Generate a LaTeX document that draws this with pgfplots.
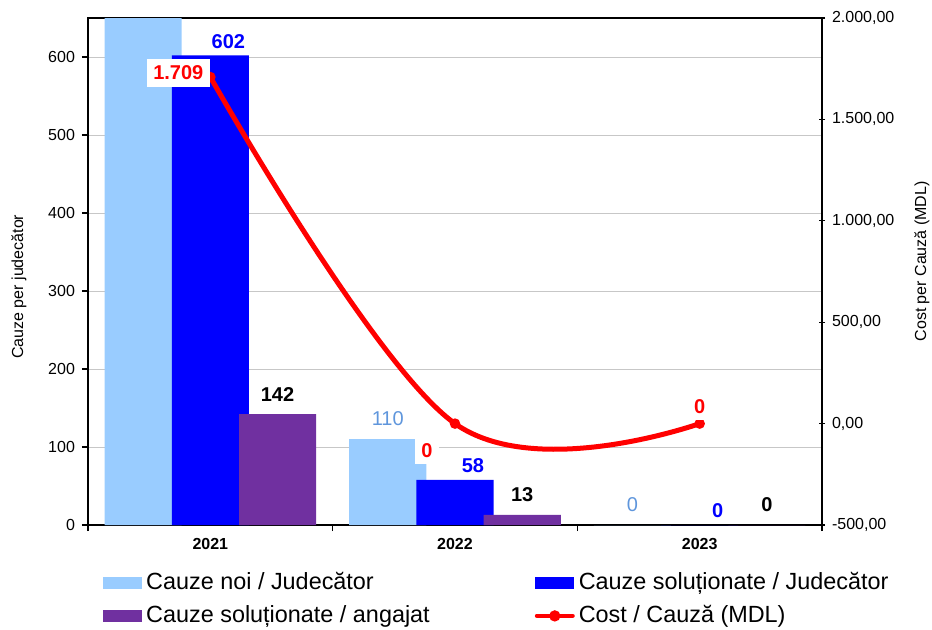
\documentclass[border=0pt]{standalone}
\usepackage{pgfplots}
\pgfplotsset{compat=1.18}
\usepackage{fontspec}
\setmainfont{Liberation Sans}
\definecolor{cnoi}{RGB}{153,204,255}
\definecolor{csol}{RGB}{0,0,255}
\definecolor{cang}{RGB}{112,48,160}
\definecolor{ccost}{RGB}{255,0,0}
\definecolor{labnoi}{RGB}{95,150,220}
\newcommand\ftick{\fontsize{8}{9.6}\selectfont}
\newcommand\flab{\fontsize{10}{12}\selectfont}
\newcommand\fleg{\fontsize{11.7}{14}\selectfont}

\pgfplotsset{
  base/.style={
    scale only axis, width=367pt, height=253.5pt,
    xmin=-0.5, xmax=2.5,
    axis line style={black, line width=0.6pt},
    tick style={black, line width=0.6pt},
    major tick length=3pt,
    /pgf/number format/assume math mode=true,
    tick label style={font=\ftick},
  },
}

\begin{document}
\begin{tikzpicture}
\path[use as bounding box] (-44pt,-52pt) rectangle (422pt,262.5pt);

% left axis: bars
\begin{axis}[base,
  ymin=0, ymax=650, ytick={0,100,...,600},
  xtick={-0.5,0.5,1.5,2.5}, xticklabels={2021,2022,2023},
  x tick label as interval,
  xtick pos=bottom, ytick pos=left, tick align=outside,
  xticklabel style={font=\ftick\bfseries},
  ymajorgrids, grid style={draw=black!22, line width=0.5pt},
  ylabel={Cauze per judecător},
  every axis y label/.style={at={(axis description cs:0,0.47)}, xshift=-34.5pt,
    rotate=90, anchor=center, font=\ftick},
  nodes near coords, point meta=explicit symbolic,
  every node near coord/.append style={font=\flab},
]
% bars side by side, overlapping; labels shifted by hand
\addplot[ybar, bar width=0.315, bar shift=-0.275, fill=cnoi, draw=none,
  every node near coord/.append style={text=labnoi, xshift=-33.6pt, yshift=3pt}]
  coordinates {(0,720) [] (1,110) [110] (2,0) [0]};
\addplot[ybar, bar width=0.315, bar shift=0, fill=csol, draw=none,
  every node near coord/.append style={text=csol, font=\flab\bfseries, xshift=9pt, yshift=0pt}]
  coordinates {(0,602) [602] (1,58) [58] (2,0) [0]};
\addplot[ybar, bar width=0.315, bar shift=0.275, fill=cang, draw=none,
  every node near coord/.append style={text=black, font=\flab\bfseries, xshift=33.6pt, yshift=3pt}]
  coordinates {(0,142) [142] (1,13) [13] (2,0) [0]};
\end{axis}

% right axis: cost line + legend
\begin{axis}[base,
  ymin=-500, ymax=2000, ytick={-500,0,...,2000},
  yticklabels={{-500,00},{0,00},{500,00},{1.000,00},{1.500,00},{2.000,00}},
  axis x line=none, axis y line*=right, tick align=center,
  ylabel={Cost per Cauză (MDL)},
  every axis y label/.style={at={(axis description cs:1,0.52)}, xshift=50pt,
    rotate=90, anchor=center, font=\ftick},
  legend columns=2,
  legend style={at={(axis description cs:0,0)}, anchor=north west,
    xshift=7.5pt, yshift=-22pt, draw=none, fill=none, font=\fleg,
    inner sep=0pt, row sep=3pt,
    nodes={inner xsep=2pt, inner ysep=1pt, text height=9pt, text depth=2.5pt},
    /tikz/every even column/.append style={column sep=50.5pt}},
  legend cell align=left,
]
\addlegendimage{legend image code/.code={\fill[cnoi] (0pt,-2.75pt) rectangle (19pt,2.75pt);}}
\addlegendentry{Cauze noi / Judecător}
\addlegendimage{legend image code/.code={\fill[csol] (0pt,-2.75pt) rectangle (19pt,2.75pt);}}
\addlegendentry{Cauze soluționate / Judecător}
\addlegendimage{legend image code/.code={\fill[cang] (0pt,-2.75pt) rectangle (19pt,2.75pt);}}
\addlegendentry{Cauze soluționate / angajat}
\addplot[ccost, line width=2.5pt, smooth, tension=0.6, line cap=round,
  mark=*, mark size=1.3pt, mark options={solid, fill=ccost, draw=ccost},
  nodes near coords, point meta=explicit symbolic,
  visualization depends on={\thisrow{dx} \as \ldx},
  visualization depends on={\thisrow{dy} \as \ldy},
  every node near coord/.append style={anchor=center, xshift=\ldx pt, yshift=\ldy pt,
    fill=white, text=ccost, font=\flab\bfseries},
  legend image code/.code={\draw[ccost, line width=2.2pt, line cap=round] (0.6pt,0pt)--(18.4pt,0pt);
    \fill[ccost] (9.5pt,0pt) circle (1.5pt);}]
  table[x=x, y=y, meta=lab] {
x y lab dx dy
0 1709 1.709 -16 2
1 0 0 -14 -13.5
2 0 0 0 8.5
};
\addlegendentry{Cost / Cauză (MDL)}
\end{axis}
\end{tikzpicture}
\end{document}
